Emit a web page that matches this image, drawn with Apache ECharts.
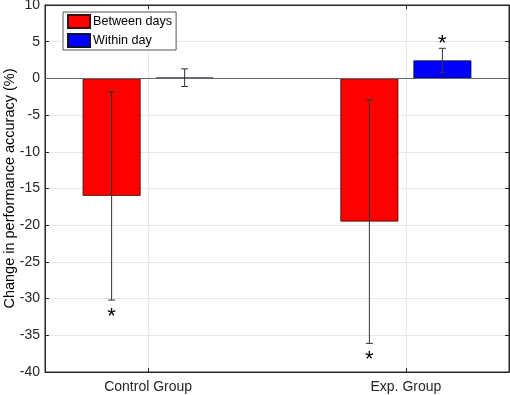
<!DOCTYPE html>
<html style="height: 100%">
<head>
  <meta charset="utf-8">
  <script src="https://cdn.jsdelivr.net/npm/echarts@6/dist/echarts.min.js"></script>
</head>
<body style="height: 100%; margin: 0; background: #fff">
  <div id="main" style="width: 510px; height: 395px"></div>
  <script type="text/javascript">
    // data
    var groups = ['Control Group', 'Exp. Group'];
    var groupPos = [1, 2];
    var betweenMean = [-16.0, -19.5];
    var betweenErr = [14.2, 16.6];
    var betweenSig = [true, true];
    var withinMean = [0.1, 2.45];
    var withinErr = [1.2, 1.65];
    var withinSig = [false, true];

    var font = 'Liberation Sans';
    var axisColor = '#262626';
    var barW = 58, gapPx = 15;
    var off = (barW + gapPx) / 2;

    var errData = [];
    for (var i = 0; i < groups.length; i++) {
      errData.push([groupPos[i], betweenMean[i], betweenErr[i], -1, betweenSig[i] ? 1 : 0]);
      errData.push([groupPos[i], withinMean[i], withinErr[i], 1, withinSig[i] ? 1 : 0]);
    }

    function renderErr(params, api) {
      var x = api.value(0), m = api.value(1), e = api.value(2), side = api.value(3), sig = api.value(4);
      var hi = api.coord([x, m + e]);
      var lo = api.coord([x, m - e]);
      var cx = hi[0] + side * off;
      var cap = 3.5;
      var st = { stroke: '#333', lineWidth: 1 };
      var kids = [
        { type: 'line', shape: { x1: cx, y1: hi[1], x2: cx, y2: lo[1] }, style: st },
        { type: 'line', shape: { x1: cx - cap, y1: hi[1], x2: cx + cap, y2: hi[1] }, style: st },
        { type: 'line', shape: { x1: cx - cap, y1: lo[1], x2: cx + cap, y2: lo[1] }, style: st }
      ];
      if (sig) {
        // asterisk glyph sits high in its box, so anchor by the box bottom
        var ty = m < 0 ? lo[1] + 28 : hi[1] + 7;
        kids.push({
          type: 'text',
          style: { text: '*', x: cx, y: ty, align: 'center', verticalAlign: 'bottom',
                   fontSize: 22, fontFamily: font, fill: '#000' }
        });
      }
      return { type: 'group', children: kids };
    }

    var myChart = echarts.init(document.getElementById('main'));
    var option = {
      animation: false,
      textStyle: { fontFamily: font },
      grid: { left: 45, right: 1, top: 5, bottom: 23, containLabel: false, outerBoundsMode: 'none',
              show: true, borderColor: axisColor, borderWidth: 1 },
      legend: {
        orient: 'vertical',
        left: 63, top: 12,
        itemWidth: 22, itemHeight: 13, itemGap: 4,
        icon: 'rect',
        padding: [2, 4, 2, 4],
        borderColor: '#555', borderWidth: 1,
        backgroundColor: '#fff',
        textStyle: { fontSize: 12.6, color: '#000', fontFamily: font, padding: [0, 0, 0, -2] },
        data: ['Between days', 'Within day']
      },
      xAxis: [{
        type: 'value', min: 0.6, max: 2.4,
        axisLine: { onZero: false, lineStyle: { color: axisColor } },
        axisTick: { inside: true, length: 4, customValues: groupPos, lineStyle: { color: axisColor } },
        axisLabel: {
          customValues: groupPos, margin: 8, fontSize: 14, color: '#262626',
          formatter: function (v) { return groups[Math.round(v) - 1] || ''; }
        },
        splitLine: { show: true, lineStyle: { color: '#e8e8e8' } }
      }, {
        type: 'value', min: 0.6, max: 2.4, position: 'top',
        axisLine: { onZero: false, lineStyle: { color: axisColor } },
        axisTick: { inside: true, length: 4, customValues: groupPos, lineStyle: { color: axisColor } },
        axisLabel: { show: false },
        splitLine: { show: false }
      }],
      yAxis: [{
        type: 'value', min: -40, max: 10, interval: 5,
        name: 'Change in performance accuracy (%)',
        nameLocation: 'middle', nameGap: 28, nameMoveOverlap: false,
        nameTextStyle: { fontSize: 14.5, color: '#000' },
        axisLine: { show: true, onZero: false, lineStyle: { color: axisColor } },
        axisTick: { show: true, inside: true, length: 4, lineStyle: { color: axisColor } },
        axisLabel: { fontSize: 14, color: '#262626', margin: 5 },
        splitLine: { show: true, lineStyle: { color: '#e8e8e8' } }
      }, {
        type: 'value', min: -40, max: 10, interval: 5, position: 'right',
        axisLine: { show: true, onZero: false, lineStyle: { color: axisColor } },
        axisTick: { show: true, inside: true, length: 4, lineStyle: { color: axisColor } },
        axisLabel: { show: false },
        splitLine: { show: false }
      }],
      series: [{
        name: 'Between days', type: 'bar',
        barWidth: barW, barGap: (gapPx / barW * 100).toFixed(1) + '%',
        itemStyle: { color: '#ff0000', borderColor: '#3a1010', borderWidth: 0.8 },
        data: groupPos.map(function (p, i) { return [p, betweenMean[i]]; }),
        markLine: {
          silent: true, symbol: 'none', label: { show: false },
          lineStyle: { color: '#666', type: 'solid', width: 1 },
          data: [{ yAxis: 0 }]
        },
        z: 3
      }, {
        name: 'Within day', type: 'bar',
        barWidth: barW,
        itemStyle: { color: '#0000ff', borderColor: '#10103a', borderWidth: 0.8 },
        data: groupPos.map(function (p, i) { return [p, withinMean[i]]; }),
        z: 3
      }, {
        type: 'custom', renderItem: renderErr,
        encode: { x: 0, y: 1 },
        data: errData, z: 5, silent: true
      }]
    };
    myChart.setOption(option);
  </script>
</body>
</html>
